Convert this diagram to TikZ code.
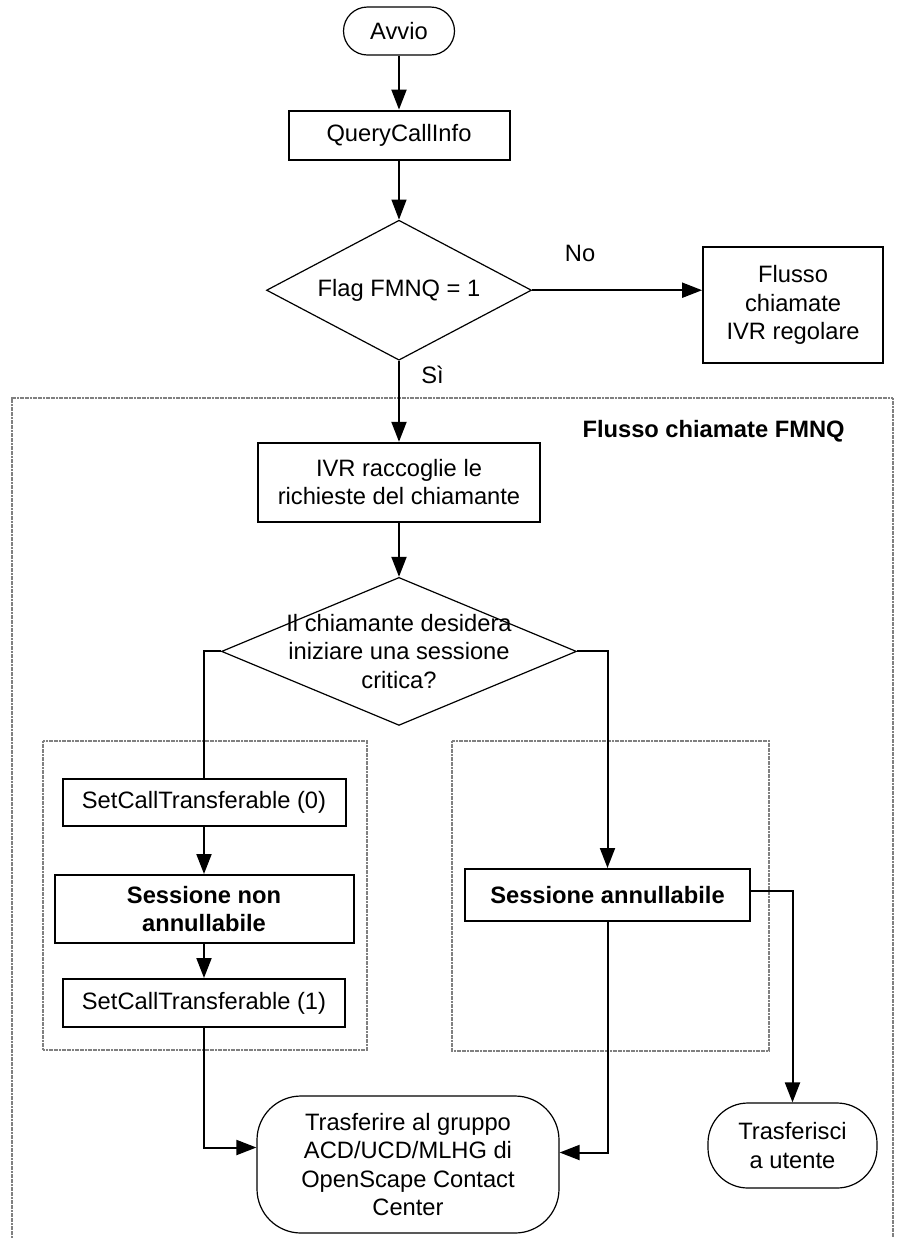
\documentclass[tikz,border=0pt]{standalone}
\usepackage{fontspec}
\setmainfont{Liberation Sans}
\usetikzlibrary{arrows.meta,positioning,shapes.geometric}
\newcommand{\chartfont}{\fontsize{11.85}{14.2}\selectfont}
\tikzset{
  box/.style  = {rectangle, draw, line width=1pt, align=center, inner sep=0pt},
  term/.style = {rectangle, rounded corners=#1, draw, line width=0.6pt, align=center, inner sep=0pt},
  term/.default = 12pt,
  dec/.style  = {diamond, draw, line width=0.6pt, align=center, inner sep=0pt},
  fl/.style   = {-{Triangle[length=10pt,width=7.5pt]}, line width=1pt},
  ln/.style   = {line width=1pt},
  frm/.style  = {draw=black!50, line width=1.1pt, dash pattern=on 1pt off 0.3pt},
  lbl/.style  = {inner sep=0pt},
}
\begin{document}
\begin{tikzpicture}[x=0.5pt, y=-0.5pt, every node/.style={font=\chartfont}]
\useasboundingbox (0,0) rectangle (898,1238);
\draw[frm] (12,1238) |- (893,398) -- (893,1238);
\draw[frm] (43,741) rectangle (367,1050);
\draw[frm] (452,741) rectangle (769,1051);

\node[term, minimum width=55.5pt, minimum height=24pt] (start) at (399,31) {Avvio};
\node[box, minimum width=110.5pt, minimum height=24.5pt, below=27pt of start] (qci) {QueryCallInfo};
\node[dec, aspect=1.9, minimum width=132.5pt, minimum height=70pt, below=29.5pt of qci] (flag) {Flag FMNQ = 1};
\node[box, minimum width=90pt, minimum height=58pt, right=85pt of flag, yshift=-7.5pt] (reg) {Flusso\\chiamate\\IVR regolare};
\node[box, minimum width=141pt, minimum height=39.5pt, below=40.5pt of flag] (ivr) {IVR raccoglie le\\richieste del chiamante};
\node[dec, aspect=2.4, inner xsep=-14pt, inner ysep=-6pt, minimum width=177.5pt, minimum height=74pt, below=27pt of ivr] (crit) {Il chiamante desidera\\iniziare una sessione\\critica?};
\node[box, minimum width=141.5pt, minimum height=23.5pt, below=26pt of crit, xshift=-97.5pt] (sct0) {SetCallTransferable (0)};
\node[box, font=\chartfont\bfseries, minimum width=149.5pt, minimum height=34pt, below=23.5pt of sct0] (nann) {Sessione non\\annullabile};
\node[box, minimum width=141pt, minimum height=24pt, below=17pt of nann] (sct1) {SetCallTransferable (1)};
\node[box, font=\chartfont\bfseries, minimum width=142.5pt, minimum height=26pt, below=71pt of crit, xshift=104.25pt] (ann) {Sessione annullabile};
\node[term=22pt, minimum width=151pt, minimum height=68.5pt] (acd) at (408,1164.5) {Trasferire al gruppo\\ACD/UCD/MLHG di\\OpenScape Contact\\Center};
\node[term=20pt, minimum width=84.5pt, minimum height=42.5pt] (ute) at (792.5,1145.5) {Trasferisci\\a utente};

\node[lbl, anchor=base] (no) at ([xshift=24pt,yshift=14.5pt]flag.east) {No};
\node[lbl, anchor=base west] (si) at ([xshift=11pt,yshift=-11.5pt]flag.south) {Sì};
\node[lbl, font=\chartfont\bfseries, anchor=base east] (fmnq) at (845,437) {Flusso chiamate FMNQ};

\draw[fl] (start) -- (qci);
\draw[fl, line width=0.6pt] (qci) -- (flag);
\draw[fl] (flag.east) -- (flag.east -| reg.west);
\draw[fl] (flag) -- (ivr);
\draw[fl] (ivr) -- (crit);
\draw[ln] (crit.west) -| (sct0.north);
\draw[fl] (sct0) -- (nann);
\draw[fl] (nann) -- (sct1);
\draw[fl] (sct1.south) |- ([yshift=8.5pt]acd.west);
\draw[fl] (crit.east) -| (ann.north);
\draw[fl] (ann.south) |- ([yshift=6pt]acd.east);
\draw[fl] ([yshift=2pt]ann.east) -| (ute.north);
\end{tikzpicture}
\end{document}
